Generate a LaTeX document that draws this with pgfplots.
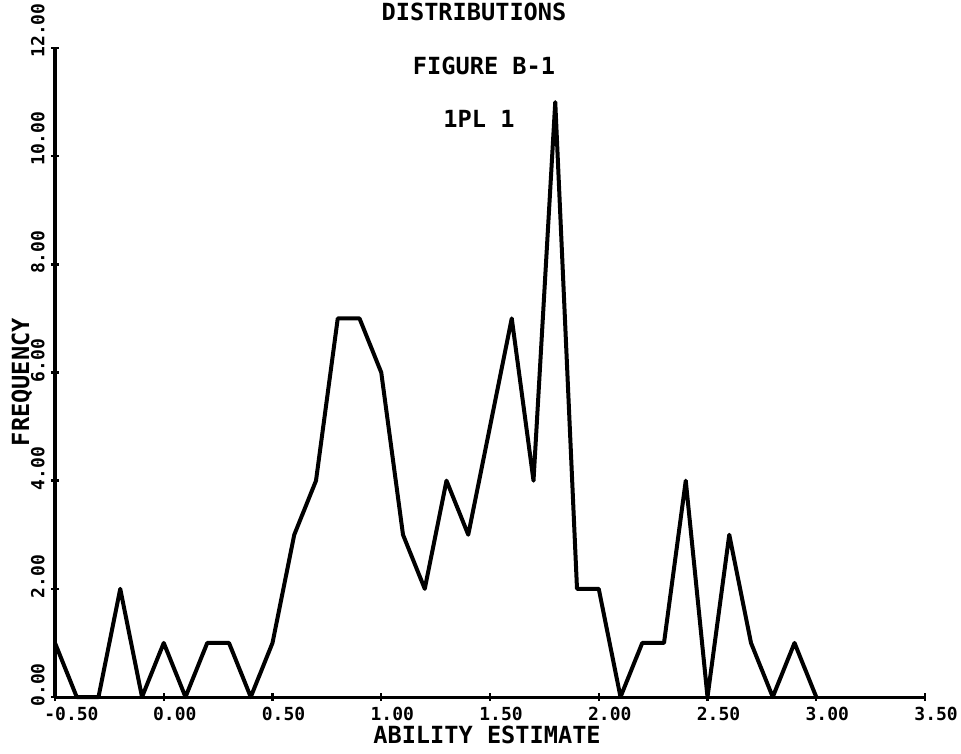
\documentclass[border=0pt]{standalone}
\usepackage{fontspec}
\usepackage{pgfplots}
\usepackage{pgfplotstable}
\pgfplotsset{compat=1.18}
\newfontfamily\plotfont{DejaVu Sans Mono}
\newcommand{\labfont}{\plotfont\bfseries\fontsize{11.8}{13}\selectfont}
\newcommand{\tickfont}{\plotfont\bfseries\fontsize{9}{10}\selectfont}

% frequency of ability estimates, bins of 0.1
\pgfplotstableread{
x    y
-0.5 1
-0.4 0
-0.3 0
-0.2 2
-0.1 0
0.0  1
0.1  0
0.2  1
0.3  1
0.4  0
0.5  1
0.6  3
0.7  4
0.8  7
0.9  7
1.0  6
1.1  3
1.2  2
1.3  4
1.4  3
1.5  5
1.6  7
1.7  4
1.8  11
1.9  2
2.0  2
2.1  0
2.2  1
2.3  1
2.4  4
2.5  0
2.6  3
2.7  1
2.8  0
2.9  1
3.0  0
}\freq

\begin{document}
\begin{tikzpicture}
\path[use as bounding box] (-27.5pt,-28pt) rectangle (453pt,348.5pt);
\begin{axis}[
    scale only axis,
    width=435pt, height=324.5pt,
    xmin=-0.5, xmax=3.5, ymin=0, ymax=12,
    enlargelimits=false,
    clip=false,
    axis lines*=left,
    axis line style={line width=1.5pt},
    tick align=center,
    major tick length=4pt,
    tick style={line width=1.2pt, black},
    xtick={-0.5,0,0.5,1,1.5,2,2.5,3,3.5},
    xticklabels={-0.50,0.00,0.50,1.00,1.50,2.00,2.50,3.00,3.50},
    ytick={0,2,4,6,8,10,12},
    yticklabels={0.00,2.00,4.00,6.00,8.00,10.00,12.00},
    ticklabel style={font=\tickfont, inner sep=0pt},
    xticklabel style={anchor=north west, xshift=-5.5pt, yshift=-3pt},
    yticklabel style={xshift=-3pt, yshift=-5pt, rotate=90, anchor=south west},
    xlabel={ABILITY ESTIMATE},
    ylabel={FREQUENCY},
    label style={font=\labfont, inner sep=0pt},
    xlabel style={at={(axis description cs:0.4966,-0.0586)}, anchor=center},
    ylabel style={at={(axis description cs:-0.0379,0.485)}, anchor=center},
]
\addplot[black, line width=2pt, line join=round, mark=none] table[x=x, y=y] {\freq};
\end{axis}
\node[font=\labfont, inner sep=0pt] at (209.5pt,342.5pt) {DISTRIBUTIONS};
\node[font=\labfont, inner sep=0pt] at (214.5pt,315.5pt) {FIGURE B-1};
\node[font=\labfont, inner sep=0pt] at (212pt,289pt) {1PL 1};
\end{tikzpicture}
\end{document}
